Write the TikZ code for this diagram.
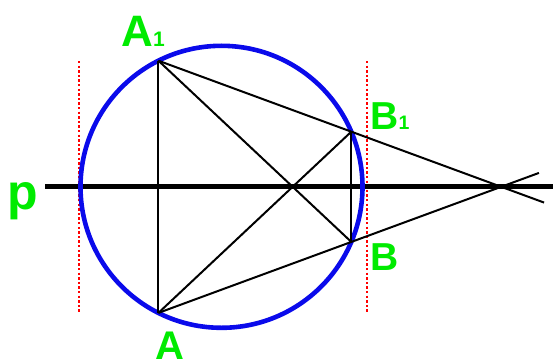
\documentclass[tikz,border=0pt]{standalone}
\usepackage{fontspec}
\setmainfont{Liberation Sans}
\usetikzlibrary{calc}
\definecolor{lblgreen}{RGB}{0,235,0}
\definecolor{circblue}{RGB}{10,10,235}
\begin{document}
\begin{tikzpicture}[x=1pt,y=-1pt,
  thinline/.style={line width=2pt,black},
  axisline/.style={line width=5pt,black},
  guide/.style={red,line width=2.2pt,dash pattern=on 2.4pt off 2.2pt},
  lbl/.style={text=lblgreen,font=\fontsize{40}{40}\selectfont\bfseries,anchor=base west,inner sep=0pt},
  sub/.style={text=lblgreen,font=\fontsize{20}{20}\selectfont\bfseries,anchor=base west,inner sep=0pt}]
\useasboundingbox (0,0) rectangle (553,361);
\fill[white] (0,0) rectangle (553,361);
\coordinate (O) at (221.5,186.8);
\coordinate (A1) at (158.4,60.7);
\coordinate (A) at (158.4,312.9);
\coordinate (B1) at (351.3,131.7);
\coordinate (B) at (351.3,241.9);
\coordinate (X) at (501.2,186.8);
\coordinate (PL) at (45,186.8);
\coordinate (PR) at (553,186.8);
\coordinate (LT) at (79.3,61);
\coordinate (LB) at (79.3,313);
\coordinate (RT) at (366.7,61);
\coordinate (RB) at (366.7,313);
% guides
\draw[guide] (LT) -- (LB);
\draw[guide] (RT) -- (RB);
% axis p
\draw[axisline] (PL) -- (PR);
% circle
\draw[circblue,line width=4.6pt] (O) circle[radius=141];
% segments
\draw[thinline] (A1) -- (A);
\draw[thinline] (B1) -- (B);
\draw[thinline] (A1) -- (B);
\draw[thinline] (A) -- (B1);
\draw[thinline] (A1) -- ($(A1)!1.125!(X)$);
\draw[thinline] (A) -- ($(A)!1.11!(X)$);
% labels
\node[lbl,font=\fontsize{44}{44}\selectfont\bfseries] (lA1) at (121,46) {A};
\node[sub,font=\fontsize{21}{21}\selectfont\bfseries] (sA1) at (153,46) {1};
\node[lbl,font=\fontsize{39}{39}\selectfont\bfseries] (lB1) at (370,129) {B};
\node[sub,font=\fontsize{19.5}{19.5}\selectfont\bfseries] (sB1) at (398.5,129) {1};
\node[lbl,font=\fontsize{39}{39}\selectfont\bfseries] (lB) at (370,270) {B};
\node[lbl] (lA) at (155,359) {A};
\node[lbl,font=\fontsize{50}{50}\selectfont\bfseries] (lp) at (7,209.5) {p};
\end{tikzpicture}
\end{document}
